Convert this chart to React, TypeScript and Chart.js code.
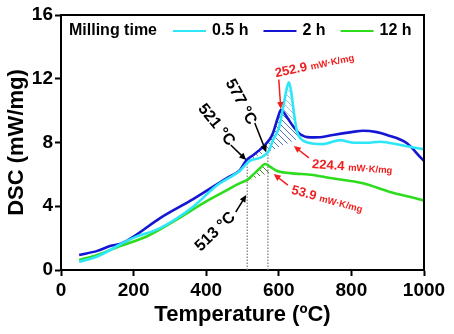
import React, { useEffect, useRef } from "react";
import { Chart, registerables } from "chart.js";

Chart.register(...registerables);

const FONT = "'Liberation Sans', Arial, Helvetica, sans-serif";

// ---- data ----
const seriesLabels = ["0.5 h", "2 h", "12 h"];
const legendTitle = "Milling time";

const tempCyan = [50, 100, 163, 198, 273, 364, 429, 493, 520, 550, 566, 571, 585, 600, 612, 622, 628, 634, 642, 650, 660, 680, 722, 769, 800, 842, 879, 936, 993, 1000];
const dscCyan = [0.52, 0.85, 1.6, 2.0, 2.63, 3.97, 5.3, 6.23, 6.85, 7.05, 7.3, 7.42, 8.2, 8.9, 10.2, 11.4, 11.78, 11.2, 9.8, 8.7, 8.25, 8.0, 7.9, 8.15, 8.0, 7.98, 8.05, 7.84, 7.6, 7.58];

const tempBlue = [50, 100, 135, 167, 198, 273, 364, 457, 493, 511, 529, 557, 575, 584, 598, 606, 615, 625, 640, 660, 686, 720, 749, 800, 832, 870, 898, 953, 993, 1000];
const dscBlue = [0.94, 1.2, 1.5, 1.67, 2.07, 3.26, 4.45, 5.77, 6.27, 6.9, 7.2, 7.74, 8.2, 8.6, 9.6, 10.05, 9.85, 9.5, 9.0, 8.5, 8.32, 8.35, 8.47, 8.65, 8.74, 8.65, 8.47, 7.95, 7.0, 6.85];

const tempGreen = [50, 100, 163, 236, 309, 392, 456, 493, 513, 530, 548, 562, 575, 594, 631, 694, 741, 832, 906, 960, 1000];
const dscGreen = [0.63, 0.95, 1.5, 2.1, 3.03, 4.2, 5.0, 5.45, 5.65, 6.0, 6.38, 6.65, 6.5, 6.23, 6.08, 5.96, 5.77, 5.44, 4.9, 4.6, 4.35];

// hatched integration regions (curve segment + straight baseline)
const hatchBlueT = [511, 529, 557, 575, 584, 598, 606, 615, 625, 640, 658, 658, 511];
const hatchBlueD = [6.9, 7.2, 7.74, 8.2, 8.6, 9.6, 10.05, 9.85, 9.5, 9.0, 8.5, 8.28, 6.84];
const hatchCyanT = [571, 585, 600, 612, 622, 628, 634, 642, 650, 658, 571];
const hatchCyanD = [7.42, 8.2, 8.9, 10.2, 11.4, 11.78, 11.2, 9.8, 8.7, 8.28, 7.43];
const hatchGreenT = [513, 530, 548, 562, 572, 580, 513];
const hatchGreenD = [5.65, 6.0, 6.38, 6.65, 6.55, 6.15, 5.6];

// onset markers (dotted verticals)
const onsetT = [513, 570];
const onsetTop = [6.75, 7.35];

// annotation texts
const peakAreaValues = ["252.9", "224.4", "53.9"];
const peakAreaUnit = "mW·K/mg";
const onsetLabels = ["521 °C", "577 °C", "513 °C"];

const xMin = 0, xMax = 1000, xStep = 200;
const yMin = 0, yMax = 16, yStep = 4;

const COL_CYAN = "#2DE6F7";
const COL_BLUE = "#1515D4";
const COL_GREEN = "#2EDC1E";
const RED = "#F01E1E";

const pts = (xs: number[], ys: number[]) => xs.map((x, i) => ({ x, y: ys[i] }));

function makeHatch(color: string, size = 6) {
  const c = document.createElement("canvas");
  c.width = size;
  c.height = size;
  const g = c.getContext("2d")!;
  g.strokeStyle = color;
  g.lineWidth = 1;
  g.beginPath();
  g.moveTo(0, 0);
  g.lineTo(size, size);
  g.moveTo(size - 1, -1);
  g.lineTo(size + 1, 1);
  g.moveTo(-1, size - 1);
  g.lineTo(1, size + 1);
  g.stroke();
  return g.createPattern(c, "repeat")!;
}

function arrow(ctx: CanvasRenderingContext2D, x1: number, y1: number, x2: number, y2: number, color: string) {
  const ang = Math.atan2(y2 - y1, x2 - x1);
  const hl = 7, hw = 3.2;
  ctx.save();
  ctx.strokeStyle = color;
  ctx.fillStyle = color;
  ctx.lineWidth = 1.5;
  ctx.beginPath();
  ctx.moveTo(x1, y1);
  ctx.lineTo(x2 - Math.cos(ang) * hl * 0.8, y2 - Math.sin(ang) * hl * 0.8);
  ctx.stroke();
  ctx.beginPath();
  ctx.moveTo(x2, y2);
  ctx.lineTo(x2 - Math.cos(ang) * hl + Math.sin(ang) * hw, y2 - Math.sin(ang) * hl - Math.cos(ang) * hw);
  ctx.lineTo(x2 - Math.cos(ang) * hl - Math.sin(ang) * hw, y2 - Math.sin(ang) * hl + Math.cos(ang) * hw);
  ctx.closePath();
  ctx.fill();
  ctx.restore();
}

// annotation placement in data coordinates
const areaLabelPos = [
  { t: 592, d: 12.1, rot: -12, tail: [600, 11.95], tip: [605.5, 10.1] },
  { t: 691, d: 6.4, rot: 4, tail: [682.8, 7.03], tip: [641.4, 7.78] },
  { t: 633, d: 4.8, rot: 15, tail: [625, 5.33], tip: [586, 6.02] },
];
const onsetLabelPos = [
  { t: 428, d: 9.1, rot: 51, tail: [467.6, 7.84], tip: [510.3, 6.9] },
  { t: 495, d: 10.55, rot: 62, tail: [533.8, 9.22], tip: [565.5, 7.4] },
  { t: 425, d: 2.4, rot: -44, tail: [481.4, 3.64], tip: [510.3, 4.7] },
];

const decorPlugin = {
  id: "decor",
  afterDatasetsDraw(chart: any) {
    const ctx: CanvasRenderingContext2D = chart.ctx;
    const { left, right, top, bottom } = chart.chartArea;
    const xs = chart.scales.x;
    const ys = chart.scales.y;
    const px = (t: number) => xs.getPixelForValue(t);
    const py = (d: number) => ys.getPixelForValue(d);
    ctx.save();
    // frame
    ctx.strokeStyle = "#000";
    ctx.lineWidth = 2;
    ctx.beginPath();
    ctx.moveTo(left, top);
    ctx.lineTo(right, top);
    ctx.lineTo(right, bottom);
    ctx.stroke();

    // legend
    const ly = top + 16;
    ctx.font = `bold 16px ${FONT}`;
    ctx.fillStyle = "#000";
    ctx.textBaseline = "middle";
    ctx.textAlign = "left";
    let cx = left + 8;
    ctx.fillText(legendTitle, cx, ly);
    cx += ctx.measureText(legendTitle).width + 16;
    const cols = [COL_CYAN, COL_BLUE, COL_GREEN];
    seriesLabels.forEach((lab, i) => {
      ctx.strokeStyle = cols[i];
      ctx.lineWidth = 2;
      ctx.beginPath();
      ctx.moveTo(cx, ly);
      ctx.lineTo(cx + 33, ly);
      ctx.stroke();
      cx += 39;
      ctx.fillStyle = "#000";
      ctx.fillText(lab, cx, ly);
      cx += ctx.measureText(lab).width + 15;
    });

    // peak area labels (red)
    areaLabelPos.forEach((a, i) => {
      arrow(ctx, px(a.tail[0]), py(a.tail[1]), px(a.tip[0]), py(a.tip[1]), RED);
      ctx.save();
      ctx.translate(px(a.t), py(a.d));
      ctx.rotate((a.rot * Math.PI) / 180);
      ctx.fillStyle = RED;
      ctx.textBaseline = "alphabetic";
      ctx.textAlign = "left";
      ctx.font = `bold 13px ${FONT}`;
      ctx.fillText(peakAreaValues[i], 0, 0);
      const w = ctx.measureText(peakAreaValues[i] + " ").width;
      ctx.font = `bold 9.5px ${FONT}`;
      ctx.fillText(peakAreaUnit, w, 0);
      ctx.restore();
    });

    // onset labels (black)
    onsetLabelPos.forEach((a, i) => {
      arrow(ctx, px(a.tail[0]), py(a.tail[1]), px(a.tip[0]), py(a.tip[1]), "#000");
      ctx.save();
      ctx.translate(px(a.t), py(a.d));
      ctx.rotate((a.rot * Math.PI) / 180);
      ctx.fillStyle = "#000";
      ctx.textBaseline = "middle";
      ctx.textAlign = "center";
      ctx.font = `bold 16px ${FONT}`;
      ctx.fillText(onsetLabels[i], 0, 0);
      ctx.restore();
    });
    ctx.restore();
  },
};

export default function App() {
  const ref = useRef<HTMLCanvasElement | null>(null);

  useEffect(() => {
    document.body.style.margin = "0";
    const canvas = ref.current!;
    const hatchBlue = makeHatch("rgba(70,110,180,0.9)");
    const hatchCyan = makeHatch("rgba(150,185,220,0.9)");
    const hatchGreen = makeHatch("rgba(70,110,40,0.9)");

    const mainLine = (label: string, xs: number[], ys: number[], color: string) => ({
      label,
      data: pts(xs, ys),
      borderColor: color,
      backgroundColor: color,
      borderWidth: 2.6,
      pointRadius: 0,
      cubicInterpolationMode: "monotone" as const,
      fill: false,
    });
    const hatch = (xs: number[], ys: number[], pattern: CanvasPattern) => ({
      label: "",
      data: pts(xs, ys),
      borderWidth: 0,
      borderColor: "rgba(0,0,0,0)",
      backgroundColor: pattern,
      pointRadius: 0,
      tension: 0,
      fill: "shape" as const,
    });
    const dotted = (i: number) => ({
      label: "",
      data: pts([onsetT[i], onsetT[i]], [0, onsetTop[i]]),
      borderColor: "#777",
      borderWidth: 1.2,
      borderDash: [1.5, 1.5],
      pointRadius: 0,
      fill: false,
    });

    const chart = new Chart(canvas, {
      type: "line",
      data: {
        datasets: [
          mainLine(seriesLabels[0], tempCyan, dscCyan, COL_CYAN),
          mainLine(seriesLabels[1], tempBlue, dscBlue, COL_BLUE),
          mainLine(seriesLabels[2], tempGreen, dscGreen, COL_GREEN),
          hatch(hatchBlueT, hatchBlueD, hatchBlue),
          hatch(hatchCyanT, hatchCyanD, hatchCyan),
          hatch(hatchGreenT, hatchGreenD, hatchGreen),
          dotted(0),
          dotted(1),
        ] as any,
      },
      options: {
        animation: false,
        responsive: true,
        maintainAspectRatio: false,
        layout: { padding: { left: 0, right: 30, top: 15, bottom: 0 } },
        plugins: {
          legend: { display: false },
          tooltip: { enabled: false },
        },
        scales: {
          x: {
            type: "linear",
            min: xMin,
            max: xMax,
            afterFit: (s: any) => {
              s.height = 64;
            },
            ticks: {
              stepSize: xStep,
              color: "#000",
              padding: 3,
              font: { family: FONT, size: 19, weight: "bold" },
              maxRotation: 0,
              callback: (v: any) => String(v),
            },
            grid: {
              drawOnChartArea: false,
              drawTicks: true,
              tickLength: 6,
              tickColor: "#000",
              tickWidth: 2,
            },
            border: { display: true, color: "#000", width: 2 },
            title: {
              display: true,
              text: "Temperature (ºC)",
              color: "#000",
              font: { family: FONT, size: 22, weight: "bold" },
              padding: { top: 0, bottom: 6 },
            },
          },
          y: {
            type: "linear",
            min: yMin,
            max: yMax,
            afterFit: (s: any) => {
              s.width = 61;
            },
            ticks: {
              stepSize: yStep,
              color: "#000",
              padding: 2,
              font: { family: FONT, size: 19, weight: "bold" },
              callback: (v: any) => String(v),
            },
            grid: {
              drawOnChartArea: false,
              drawTicks: true,
              tickLength: 6,
              tickColor: "#000",
              tickWidth: 2,
            },
            border: { display: true, color: "#000", width: 2 },
            title: {
              display: true,
              text: "DSC (mW/mg)",
              color: "#000",
              font: { family: FONT, size: 22, weight: "bold" },
              padding: { top: 4, bottom: 0 },
            },
          },
        },
      } as any,
      plugins: [decorPlugin],
    });
    return () => chart.destroy();
  }, []);

  return (
    <div style={{ position: "relative", width: 454, height: 334 }}>
      <canvas ref={ref} />
    </div>
  );
}
